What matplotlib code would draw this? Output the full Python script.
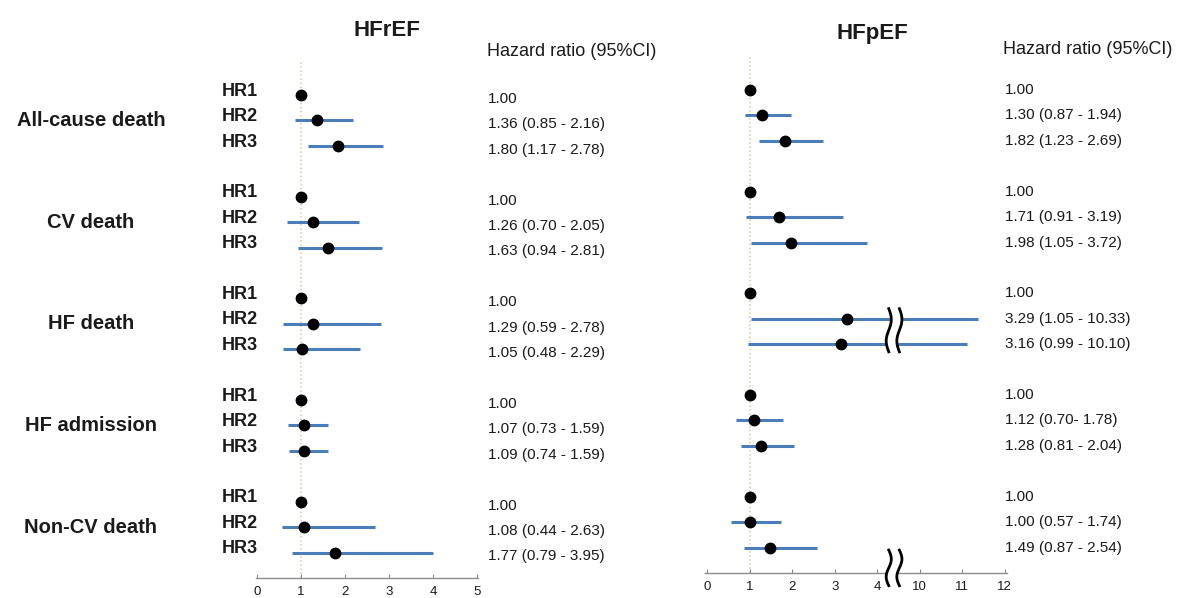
import numpy as np
import matplotlib
matplotlib.use("Agg")
import matplotlib.pyplot as plt
from matplotlib.transforms import blended_transform_factory

plt.rcParams['font.family'] = ['Liberation Sans', 'DejaVu Sans']

# outcomes and hazard ratio groups
outcomes = ["All-cause death", "CV death", "HF death", "HF admission", "Non-CV death"]
hr_groups = ["HR1", "HR2", "HR3"]

# HFrEF: point estimates and CI ends as drawn
rEF_hr = [1.00, 1.36, 1.84, 1.00, 1.27, 1.62, 1.00, 1.28, 1.03, 1.00, 1.08, 1.08, 1.00, 1.08, 1.77]
rEF_lo = [1.00, 0.86, 1.16, 1.00, 0.69, 0.94, 1.00, 0.60, 0.60, 1.00, 0.71, 0.73, 1.00, 0.58, 0.79]
rEF_hi = [1.00, 2.18, 2.86, 1.00, 2.32, 2.85, 1.00, 2.81, 2.34, 1.00, 1.62, 1.62, 1.00, 2.68, 4.00]
rEF_txt = ["1.00", "1.36 (0.85 - 2.16)", "1.80 (1.17 - 2.78)",
           "1.00", "1.26 (0.70 - 2.05)", "1.63 (0.94 - 2.81)",
           "1.00", "1.29 (0.59 - 2.78)", "1.05 (0.48 - 2.29)",
           "1.00", "1.07 (0.73 - 1.59)", "1.09 (0.74 - 1.59)",
           "1.00", "1.08 (0.44 - 2.63)", "1.77 (0.79 - 3.95)"]

# HFpEF
pEF_hr = [1.00, 1.30, 1.82, 1.00, 1.70, 1.98, 1.00, 3.29, 3.15, 1.00, 1.11, 1.27, 1.00, 1.00, 1.48]
pEF_lo = [1.00, 0.89, 1.23, 1.00, 0.91, 1.04, 1.00, 1.03, 0.97, 1.00, 0.68, 0.80, 1.00, 0.56, 0.87]
pEF_hi = [1.00, 1.98, 2.72, 1.00, 3.20, 3.76, 1.00, 11.37, 11.10, 1.00, 1.79, 2.05, 1.00, 1.74, 2.58]
pEF_txt = ["1.00", "1.30 (0.87 - 1.94)", "1.82 (1.23 - 2.69)",
           "1.00", "1.71 (0.91 - 3.19)", "1.98 (1.05 - 3.72)",
           "1.00", "3.29 (1.05 - 10.33)", "3.16 (0.99 - 10.10)",
           "1.00", "1.12 (0.70- 1.78)", "1.28 (0.81 - 2.04)",
           "1.00", "1.00 (0.57 - 1.74)", "1.49 (0.87 - 2.54)"]

left_ticks = [0, 1, 2, 3, 4, 5]
right_ticks = [0, 1, 2, 3, 4, 10, 11, 12]

W, H = 1183, 598
fig = plt.figure(figsize=(W / 100, H / 100), dpi=100)

# row positions: three rows per outcome, one blank row between outcomes
rows = np.array([g * 4 + k for g in range(len(outcomes)) for k in range(3)], dtype=float)

LINE = "#4a7dba"
TXT = "#1a1a1a"


def px_axes(x0, x1, ybot, ytop):
    return fig.add_axes([x0 / W, 1 - ybot / H, (x1 - x0) / W, (ybot - ytop) / H])


def style_axis(ax):
    for s in ["top", "right", "left"]:
        ax.spines[s].set_visible(False)
    ax.spines["bottom"].set_color("#8c8c8c")
    ax.spines["bottom"].set_linewidth(1.0)
    ax.set_yticks([])
    ax.tick_params(axis="x", direction="in", length=3, color="#8c8c8c",
                   labelsize=9.5, labelcolor=TXT, pad=6)
    ax.set_ylim(19, -1.3)
    ax.set_facecolor("none")


def draw_forest(ax, hr, lo, hi):
    ax.axvline(1, color="#d6cc97", ls=":", lw=1.1, zorder=0)
    for y, h, l, u in zip(rows, hr, lo, hi):
        if u > l:
            ax.plot([l, u], [y, y], color=LINE, lw=2.2, solid_capstyle="butt", zorder=2)
        ax.plot(h, y, "o", color="black", ms=7.5, zorder=4)


# ---------------- HFrEF ----------------
axL = px_axes(256, 478, 578, 62)
style_axis(axL)
axL.set_xlim(-0.02, 5.02)
axL.set_xticks(left_ticks)
draw_forest(axL, rEF_hr, rEF_lo, rEF_hi)

trL = blended_transform_factory(fig.transFigure, axL.transData)
for g, name in enumerate(outcomes):
    fig.text(91 / W, rows[g * 3 + 1], name, transform=trL, ha="center", va="center",
             fontsize=14.5, fontweight="bold", color=TXT)
for i, y in enumerate(rows):
    fig.text(222 / W, y - 0.15, hr_groups[i % 3], transform=trL, ha="left", va="center",
             fontsize=13, fontweight="bold", color=TXT)
    fig.text(488 / W, y + 0.15, rEF_txt[i], transform=trL, ha="left", va="center",
             fontsize=11, color=TXT)

fig.text(387 / W, 1 - 31 / H, "HFrEF", ha="center", va="center",
         fontsize=16, fontweight="bold", color=TXT)
fig.text(487 / W, 1 - 51 / H, "Hazard ratio (95%CI)", ha="left", va="center",
         fontsize=13, color=TXT)

# ---------------- HFpEF (broken axis) ----------------
def fwd(x):
    x = np.asarray(x, dtype=float)
    return np.where(x <= 4.3, x,
                    np.where(x >= 9.6, x - 5.0, 4.3 + (x - 4.3) * 0.3 / 5.3))


def inv(x):
    x = np.asarray(x, dtype=float)
    return np.where(x <= 4.3, x,
                    np.where(x >= 4.6, x + 5.0, 4.3 + (x - 4.3) * 5.3 / 0.3))


axR = px_axes(705, 1007, 573, 57)
style_axis(axR)
axR.set_xscale("function", functions=(fwd, inv))
axR.set_xlim(-0.05, 12.05)
axR.set_xticks(right_ticks)
axR.set_xticklabels([str(t) for t in right_ticks])
draw_forest(axR, pEF_hr, pEF_lo, pEF_hi)


def squiggle_pair(ax, y0, y1):
    t = np.linspace(0, 1, 60)
    ys = y0 + (y1 - y0) * t
    a = 4.27 + 0.06 * np.sin(np.pi * (2 * t - 1))
    b = 4.52 + 0.06 * np.sin(np.pi * (2 * t - 1))
    ax.fill_betweenx(ys, inv(a), inv(b), color="white", lw=0, zorder=5, clip_on=False)
    ax.plot(inv(a), ys, color="black", lw=2.0, zorder=6, clip_on=False)
    ax.plot(inv(b), ys, color="black", lw=2.0, zorder=6, clip_on=False)


squiggle_pair(axR, 10.3, 8.6)
squiggle_pair(axR, 19.5, 18.1)

trR = blended_transform_factory(fig.transFigure, axR.transData)
for i, y in enumerate(rows):
    fig.text(1005 / W, y, pEF_txt[i], transform=trR, ha="left", va="center",
             fontsize=11, color=TXT)

fig.text(872 / W, 1 - 33 / H, "HFpEF", ha="center", va="center",
         fontsize=16, fontweight="bold", color=TXT)
fig.text(1003 / W, 1 - 49 / H, "Hazard ratio (95%CI)", ha="left", va="center",
         fontsize=13, color=TXT)

fig.savefig("out.png", dpi=100, facecolor="white")
